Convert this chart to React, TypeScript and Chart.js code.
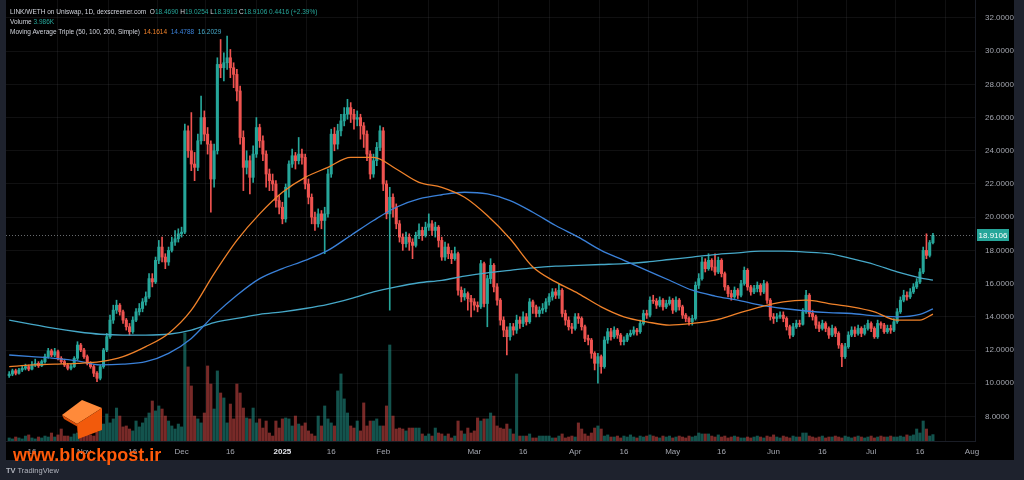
import React, { useEffect, useRef } from "react";
import { Chart, registerables } from "chart.js";

Chart.register(...registerables);

// ---- LINK/WETH daily candles (day 0 = 9 Oct 2024) ----
const FIRST_OPEN = 10.45;

const closes = [
  10.55, 10.75, 10.6, 10.8, 10.9, 11.0, 10.85, 11.1, 11.2, 11.05,
  11.3, 11.6, 11.95, 11.7, 11.9, 11.5, 11.3, 11.1, 10.9, 11.0,
  11.5, 12.3, 12.0, 11.6, 11.2, 11.0, 10.6, 10.3, 11.0, 12.0,
  12.8, 13.8, 14.4, 14.7, 14.3, 13.8, 13.4, 13.1, 13.8, 14.3,
  14.5, 14.9, 15.2, 16.3, 16.1, 17.4, 18.2, 17.6, 17.3, 18.0,
  18.5, 18.7, 19.0, 19.1, 25.2, 24.0, 23.2, 23.0, 24.6, 26.0,
  25.0, 24.4, 22.3, 24.0, 29.2, 29.0, 29.3, 29.6, 29.0, 28.6,
  27.6, 24.8, 23.0, 23.4, 22.4, 23.8, 25.4, 24.6, 23.8, 22.6,
  22.2, 22.0, 21.0, 20.6, 19.9, 21.8, 23.2, 23.7, 23.4, 23.8,
  23.6, 22.0, 21.2, 20.0, 19.6, 20.2, 19.8, 20.2, 22.6, 25.0,
  24.4, 25.2, 25.8, 26.2, 26.6, 26.2, 25.9, 26.0, 25.5, 25.0,
  23.8, 22.6, 23.4, 24.2, 25.2, 22.0, 20.2, 21.2, 20.6, 19.6,
  18.8, 18.4, 18.8, 18.5, 18.3, 18.9, 19.2, 18.9, 19.4, 19.6,
  19.2, 19.4, 18.6, 17.6, 18.2, 17.8, 17.5, 17.8, 15.6, 15.2,
  15.4, 15.1, 14.9, 14.7, 14.6, 17.2, 14.8, 16.3, 17.1, 15.8,
  15.0, 13.8, 13.2, 12.8, 13.4, 13.2, 13.8, 13.6, 14.0, 13.7,
  14.9, 14.6, 14.2, 14.4, 14.5, 14.9, 15.2, 15.5, 15.3, 15.6,
  14.2, 13.8, 13.4, 13.3, 14.0, 13.9, 13.4, 12.7, 12.6, 11.8,
  11.2, 11.6, 11.0, 12.6, 13.1, 12.8, 13.2, 12.9, 12.5, 12.6,
  12.9, 13.0, 13.2, 13.1, 13.6, 14.2, 14.1, 15.0, 14.95, 14.7,
  15.0, 14.6, 14.8, 15.0, 14.4, 15.0, 14.6, 14.1, 13.9, 13.7,
  13.9, 15.9, 16.3, 17.3, 16.9, 17.4, 17.0, 16.7, 17.4, 16.6,
  15.8, 15.4, 15.2, 15.6, 15.3, 16.0, 16.8, 15.8, 15.5, 15.7,
  15.9, 15.5, 16.0, 15.0, 14.0, 13.9, 14.0, 14.1, 13.9, 13.4,
  12.9, 13.4, 13.6, 13.55, 14.3, 15.3, 14.2, 14.0, 13.5, 13.3,
  13.6, 13.3, 12.9, 13.3, 13.0, 12.3, 11.6, 12.2, 12.9, 13.2,
  13.0, 13.3, 13.0, 13.3, 13.6, 13.3, 12.8, 13.6, 13.5, 13.1,
  13.3, 13.2, 13.7, 14.3, 15.0, 15.3, 15.2, 15.5, 15.8, 16.1,
  16.7, 18.0, 17.7, 18.469, 18.9106,
];

const highs = [
  10.7, 10.85, 10.85, 10.9, 11.05, 11.15, 11.1, 11.3, 11.45, 11.3,
  11.4, 11.75, 12.1, 12.05, 12.1, 12.0, 11.6, 11.45, 11.2, 11.15,
  11.6, 12.5, 12.4, 12.1, 11.7, 11.3, 11.1, 10.7, 11.1, 12.1,
  13.0, 14.1, 14.7, 15.0, 14.8, 14.4, 13.9, 13.6, 14.0, 14.5,
  14.8, 15.1, 15.5, 16.6, 16.6, 17.6, 18.6, 18.8, 17.8, 18.2,
  18.8, 19.2, 19.3, 19.4, 25.6, 25.5, 26.3, 23.9, 25.0, 27.3,
  26.4, 25.4, 24.6, 24.4, 29.6, 30.7, 29.9, 30.9, 30.1, 29.3,
  28.9, 27.9, 25.2, 24.0, 23.7, 24.3, 26.0, 25.6, 24.9, 24.0,
  22.9, 22.6, 22.2, 21.3, 20.9, 22.0, 23.4, 24.1, 23.9, 24.8,
  24.1, 23.8, 22.3, 21.4, 20.3, 20.5, 20.4, 20.6, 22.9, 25.3,
  25.4, 25.6, 26.2, 26.6, 27.1, 26.9, 26.5, 26.4, 26.2, 25.7,
  25.2, 24.0, 23.8, 24.5, 25.5, 25.4, 22.2, 21.8, 21.4, 20.8,
  19.8, 19.0, 19.1, 19.0, 18.7, 19.1, 19.6, 19.4, 19.7, 20.2,
  19.8, 19.7, 19.5, 18.8, 18.5, 18.4, 18.0, 18.2, 17.9, 15.8,
  15.7, 15.5, 15.3, 15.1, 14.9, 17.4, 17.3, 16.5, 17.5, 17.2,
  16.0, 15.1, 14.0, 13.4, 13.6, 13.6, 14.1, 14.0, 14.3, 14.2,
  15.1, 15.0, 14.7, 14.6, 14.8, 15.1, 15.4, 15.7, 15.7, 16.0,
  15.7, 14.4, 14.0, 13.6, 14.2, 14.2, 14.0, 13.5, 12.9, 12.7,
  11.9, 11.8, 11.7, 12.8, 13.3, 13.3, 13.4, 13.3, 13.0, 12.8,
  13.0, 13.2, 13.4, 13.3, 13.8, 14.4, 14.4, 15.2, 15.3, 15.1,
  15.2, 15.1, 15.0, 15.2, 15.1, 15.2, 15.1, 14.7, 14.2, 14.0,
  14.1, 16.1, 16.6, 17.6, 17.5, 17.8, 17.5, 17.8, 17.6, 17.5,
  16.7, 15.9, 15.6, 15.8, 15.7, 16.2, 17.0, 16.9, 15.9, 15.9,
  16.1, 16.0, 16.2, 16.1, 15.1, 14.2, 14.2, 14.3, 14.3, 14.0,
  13.5, 13.6, 13.8, 13.8, 14.5, 15.6, 15.4, 14.4, 14.1, 13.7,
  13.8, 13.7, 13.4, 13.5, 13.4, 13.1, 12.4, 12.4, 13.1, 13.4,
  13.4, 13.5, 13.4, 13.5, 13.8, 13.7, 13.4, 13.8, 13.7, 13.6,
  13.5, 13.5, 13.9, 14.5, 15.2, 15.6, 15.5, 15.7, 16.0, 16.3,
  16.9, 18.2, 19.0, 18.6, 19.0254,
];

const lows = [
  10.35, 10.45, 10.5, 10.55, 10.7, 10.8, 10.75, 10.8, 11.0, 10.95,
  11.0, 11.2, 11.5, 11.6, 11.6, 11.4, 11.2, 11.0, 10.8, 10.8,
  10.95, 11.4, 11.9, 11.5, 11.1, 10.9, 10.4, 10.1, 10.2, 10.9,
  11.9, 12.7, 13.6, 14.2, 14.1, 13.6, 13.2, 12.9, 13.0, 13.7,
  14.1, 14.3, 14.7, 15.1, 15.8, 16.0, 17.2, 17.3, 16.9, 17.1,
  17.9, 18.3, 18.5, 18.8, 19.0, 23.6, 22.8, 22.2, 22.8, 24.4,
  24.6, 23.8, 20.3, 21.8, 23.8, 28.4, 28.2, 28.9, 28.4, 27.8,
  27.0, 24.4, 21.6, 22.6, 21.4, 22.1, 23.6, 24.2, 23.4, 21.8,
  21.6, 21.6, 20.6, 20.2, 19.6, 19.7, 21.2, 23.0, 22.9, 23.2,
  23.2, 21.7, 20.8, 19.6, 19.2, 19.4, 19.3, 17.8, 20.0, 22.4,
  24.0, 24.1, 24.9, 25.5, 25.9, 25.7, 25.3, 25.5, 24.7, 24.2,
  23.4, 22.3, 22.4, 23.1, 24.0, 21.6, 19.9, 14.4, 20.0, 19.3,
  18.5, 18.0, 18.2, 18.0, 17.5, 18.2, 18.7, 18.6, 18.8, 19.2,
  18.9, 18.8, 18.2, 17.4, 17.4, 17.5, 17.2, 17.4, 15.3, 14.9,
  15.0, 14.4, 14.0, 14.4, 14.3, 14.5, 14.6, 13.4, 16.0, 15.5,
  14.7, 13.5, 12.8, 11.7, 12.6, 12.9, 13.0, 13.3, 13.4, 13.5,
  13.6, 14.2, 14.0, 14.0, 14.2, 14.3, 14.7, 15.0, 15.1, 15.1,
  14.0, 13.5, 13.2, 13.0, 13.2, 13.6, 13.2, 12.5, 12.3, 11.5,
  10.8, 10.0, 10.6, 10.9, 12.4, 12.6, 12.7, 12.7, 12.3, 12.3,
  12.5, 12.8, 12.9, 12.9, 13.0, 13.5, 13.9, 14.0, 14.8, 14.5,
  14.6, 14.4, 14.5, 14.7, 14.2, 14.3, 14.4, 13.9, 13.7, 13.5,
  13.5, 13.8, 15.7, 16.2, 16.7, 16.8, 16.8, 16.5, 16.6, 16.4,
  15.6, 15.2, 15.0, 15.1, 15.1, 15.2, 15.9, 15.6, 15.3, 15.4,
  15.5, 15.3, 15.4, 14.8, 13.8, 13.6, 13.7, 13.9, 13.7, 13.2,
  12.7, 12.8, 13.3, 13.4, 13.5, 14.2, 14.0, 13.8, 13.3, 13.1,
  13.2, 13.1, 12.7, 12.8, 12.8, 12.1, 11.0, 11.5, 12.1, 12.8,
  12.8, 12.9, 12.8, 12.9, 13.2, 13.1, 12.7, 12.7, 13.3, 13.0,
  13.0, 13.0, 13.1, 13.6, 14.2, 14.9, 15.0, 15.1, 15.4, 15.7,
  16.0, 16.6, 17.5, 17.6, 18.3913,
];

// volume in thousands
const volumes = [
  1.9, 1.3, 2.5, 1.9, 1.3, 3.1, 3.8, 1.9, 1.3, 2.5,
  1.9, 3.1, 2.5, 5.0, 2.5, 3.8, 7.5, 3.1, 3.1, 2.5,
  4.4, 5.0, 3.8, 3.1, 5.0, 3.8, 3.1, 5.6, 7.5, 10.6,
  16.9, 11.3, 13.8, 20.6, 15.6, 8.8, 9.4, 7.5, 6.3, 12.5,
  8.8, 11.3, 14.4, 17.5, 25.0, 18.8, 21.9, 20.0, 15.6, 12.5,
  9.4, 7.5, 10.6, 8.8, 67.5, 46.3, 34.4, 15.6, 13.8, 11.3,
  17.5, 46.9, 35.6, 20.0, 43.8, 30.0, 26.9, 11.3, 23.1, 13.8,
  35.6, 30.0, 20.6, 14.4, 13.8, 20.6, 11.3, 13.8, 8.1, 12.5,
  5.0, 3.1, 12.5, 8.1, 13.8, 14.4, 13.8, 9.4, 15.6, 10.6,
  9.4, 11.3, 6.3, 4.4, 3.1, 15.6, 9.4, 21.9, 13.8, 11.3,
  9.4, 31.3, 41.9, 26.3, 17.5, 9.4, 8.1, 12.5, 6.3, 23.8,
  9.4, 12.5, 12.5, 13.8, 9.4, 9.4, 21.9, 60.0, 15.6, 7.5,
  8.1, 7.5, 6.3, 8.1, 8.1, 8.1, 8.1, 4.4, 3.1, 4.4,
  3.1, 8.1, 5.0, 4.4, 3.1, 4.4, 1.9, 3.1, 12.5, 6.3,
  4.4, 8.1, 5.0, 6.3, 14.4, 12.5, 13.8, 13.8, 17.5, 15.6,
  9.4, 8.1, 7.5, 10.6, 7.5, 4.4, 41.9, 3.1, 3.1, 3.1,
  4.4, 1.9, 1.9, 3.1, 3.1, 3.1, 3.1, 1.9, 1.9, 3.1,
  4.4, 1.9, 2.5, 3.1, 2.5, 11.3, 7.5, 4.4, 3.1, 5.0,
  8.1, 9.4, 7.5, 3.1, 3.8, 2.5, 2.5, 3.1, 1.9, 3.1,
  2.5, 3.8, 2.5, 1.9, 3.1, 2.5, 3.1, 3.8, 3.1, 2.5,
  1.9, 3.1, 2.5, 3.1, 1.9, 2.5, 3.1, 2.5, 1.9, 3.1,
  2.5, 3.1, 5.0, 4.4, 4.4, 4.4, 3.1, 2.5, 3.8, 2.5,
  3.1, 1.9, 2.5, 3.1, 2.5, 1.9, 1.9, 2.5, 1.9, 2.5,
  3.1, 2.5, 1.9, 3.1, 2.5, 3.8, 2.5, 1.9, 3.1, 2.5,
  1.9, 3.1, 2.5, 2.5, 5.0, 5.0, 3.1, 2.5, 1.9, 2.5,
  3.1, 1.9, 2.5, 2.5, 3.1, 2.5, 1.9, 3.1, 2.5, 1.9,
  2.5, 3.1, 2.5, 1.9, 2.5, 3.1, 1.9, 2.5, 3.1, 2.5,
  2.5, 3.1, 2.5, 2.5, 3.1, 2.5, 3.8, 3.1, 3.8, 7.5,
  5.0, 12.5, 7.5, 3.1, 3.986,
];

// Moving averages (50 / 100 / 200, simple), sampled weekly
const maDays = [
  0, 7, 14, 21, 28, 35, 42, 49, 56, 63, 70, 77, 84, 91, 98, 105, 112, 119, 126, 133, 140,
  147, 154, 161, 168, 175, 182, 189, 196, 203, 210, 217, 224, 231, 238, 245, 252, 259, 266, 273, 280, 284,
];
const ma50 = [
  11.0, 11.1, 11.15, 11.2, 11.3, 11.6, 12.2, 13.0, 14.4, 16.6, 18.6, 20.2, 21.5, 22.4, 23.0, 23.6, 23.6, 22.9, 22.1, 21.8, 21.2,
  20.1, 18.7, 17.0, 16.1, 15.4, 14.6, 14.0, 13.7, 13.5, 13.6, 13.8, 14.2, 14.6, 14.9, 15.0, 14.8, 14.6, 14.3, 13.8, 13.8, 14.1614,
];
const ma100 = [
  11.7, 11.6, 11.5, 11.35, 11.1, 11.15, 11.3, 11.8, 12.7, 14.1, 15.3, 16.3, 16.9, 17.4, 18.0, 18.9, 19.8, 20.6, 21.1, 21.35, 21.5,
  21.4, 21.0, 20.3, 19.5, 18.8, 18.0, 17.4, 16.8, 16.2, 15.6, 15.25, 15.0, 14.7, 14.5, 14.35, 14.25, 14.2, 14.05, 14.0, 14.15, 14.4788,
];
const ma200 = [
  13.8, 13.55, 13.3, 13.1, 12.95, 12.9, 12.9, 12.95, 13.2, 13.65, 13.9, 14.15, 14.3, 14.5, 14.75, 15.1, 15.5, 15.8, 16.05, 16.2, 16.45,
  16.65, 16.8, 16.95, 17.05, 17.1, 17.15, 17.2, 17.3, 17.45, 17.6, 17.75, 17.85, 17.95, 17.95, 17.9, 17.8, 17.5, 17.15, 16.7, 16.35, 16.2029,
];

// time axis
const dateTickDays = [7, 23, 38, 53, 68, 84, 99, 115, 143, 158, 174, 189, 204, 219, 235, 250, 265, 280, 296];
const dateTickLabels = ["16", "Nov", "16", "Dec", "16", "2025", "16", "Feb", "Mar", "16", "Apr", "16", "May", "16", "Jun", "16", "Jul", "16", "Aug"];
const priceTicks = [8, 10, 12, 14, 16, 18, 20, 22, 24, 26, 28, 30, 32];

// ---- styling ----
const UP = "#26a69a";
const DOWN = "#ef5350";
const VOL_UP = "rgba(38,166,154,0.5)";
const VOL_DOWN = "rgba(239,83,80,0.5)";
const MA50_COLOR = "#f0822a";
const MA100_COLOR = "#3a80d8";
const MA200_COLOR = "#46a8c8";
const GRID = "rgba(120,123,134,0.13)";
const AXIS_TEXT = "#a3a6af";
const FRAME = "#1e222d";
const FONT = "'Liberation Sans', Arial, sans-serif";

const X_MIN = -0.98;
const X_MAX = 296.93;
const Y_MIN = 6.52;
const Y_MAX = 33.08;
const VOL_MAX = 275.6;

const opens = closes.map((c, i) => (i === 0 ? FIRST_OPEN : closes[i - 1]));
const isUp = closes.map((c, i) => c >= opens[i]);
const last = closes.length - 1;

const lastPricePlugin = {
  id: "lastPrice",
  afterDatasetsDraw(chart: any) {
    const { ctx, chartArea } = chart;
    const y = Math.round(chart.scales.y.getPixelForValue(closes[last])) + 0.5;
    ctx.save();
    ctx.setLineDash([1, 2]);
    ctx.strokeStyle = "rgba(190,195,200,0.55)";
    ctx.lineWidth = 1;
    ctx.beginPath();
    ctx.moveTo(chartArea.left, y);
    ctx.lineTo(chartArea.right, y);
    ctx.stroke();
    ctx.restore();
  },
  afterDraw(chart: any) {
    const { ctx, chartArea } = chart;
    const y = chart.scales.y.getPixelForValue(closes[last]);
    const x0 = chartArea.right + 2;
    ctx.save();
    ctx.fillStyle = UP;
    ctx.fillRect(x0, Math.round(y) - 6, 32, 12);
    ctx.fillStyle = "#ffffff";
    ctx.font = `8px ${FONT}`;
    ctx.textAlign = "center";
    ctx.textBaseline = "middle";
    ctx.fillText(closes[last].toFixed(4), x0 + 16, Math.round(y) + 0.5);
    ctx.restore();
  },
};

export default function App() {
  const canvasRef = useRef<HTMLCanvasElement>(null);

  useEffect(() => {
    const canvas = canvasRef.current;
    if (!canvas) return;
    const chart = new Chart(canvas, {
      type: "bar",
      data: {
        datasets: [
          {
            type: "bar",
            label: "Volume",
            data: volumes.map((v, i) => ({ x: i, y: v })),
            backgroundColor: volumes.map((_, i) => (isUp[i] ? VOL_UP : VOL_DOWN)),
            barThickness: 2.4,
            borderWidth: 0,
            grouped: false,
            yAxisID: "yVol",
            order: 10,
          } as any,
          {
            type: "bar",
            label: "Wicks",
            data: closes.map((_, i) => ({ x: i, y: [lows[i], highs[i]] })),
            backgroundColor: closes.map((_, i) => (isUp[i] ? UP : DOWN)),
            barThickness: 1,
            borderWidth: 0,
            grouped: false,
            yAxisID: "y",
            order: 5,
          } as any,
          {
            type: "bar",
            label: "Bodies",
            data: closes.map((c, i) => ({ x: i, y: [opens[i], c] })),
            backgroundColor: closes.map((_, i) => (isUp[i] ? UP : DOWN)),
            barThickness: 2.4,
            borderWidth: 0,
            grouped: false,
            yAxisID: "y",
            order: 4,
          } as any,
          {
            type: "line",
            label: "MA 200",
            data: maDays.map((d, k) => ({ x: d, y: ma200[k] })),
            borderColor: MA200_COLOR,
            borderWidth: 1.3,
            pointRadius: 0,
            cubicInterpolationMode: "monotone",
            yAxisID: "y",
            order: 3,
          } as any,
          {
            type: "line",
            label: "MA 100",
            data: maDays.map((d, k) => ({ x: d, y: ma100[k] })),
            borderColor: MA100_COLOR,
            borderWidth: 1.3,
            pointRadius: 0,
            cubicInterpolationMode: "monotone",
            yAxisID: "y",
            order: 2,
          } as any,
          {
            type: "line",
            label: "MA 50",
            data: maDays.map((d, k) => ({ x: d, y: ma50[k] })),
            borderColor: MA50_COLOR,
            borderWidth: 1.3,
            pointRadius: 0,
            cubicInterpolationMode: "monotone",
            yAxisID: "y",
            order: 1,
          } as any,
        ],
      },
      options: {
        responsive: false,
        maintainAspectRatio: false,
        animation: false,
        events: [],
        layout: { padding: 0 },
        plugins: { legend: { display: false }, tooltip: { enabled: false } },
        scales: {
          x: {
            type: "linear",
            min: X_MIN,
            max: X_MAX,
            offset: false,
            afterBuildTicks: (s: any) => {
              s.ticks = dateTickDays.map((v) => ({ value: v }));
            },
            afterFit: (s: any) => {
              s.height = 19;
              s.paddingLeft = 0;
              s.paddingRight = 0;
            },
            grid: { color: GRID, drawTicks: false },
            border: { color: "#1a1d26" },
            ticks: {
              autoSkip: false,
              maxRotation: 0,
              padding: 6,
              color: (c: any) => (c.tick && c.tick.value === 84 ? "#e6e8ee" : AXIS_TEXT),
              font: (c: any) => ({
                family: FONT,
                size: 8,
                weight: c.tick && c.tick.value === 84 ? "bold" : "normal",
              }),
              callback: (v: any) => {
                const k = dateTickDays.indexOf(Number(v));
                return k >= 0 ? dateTickLabels[k] : "";
              },
            },
          },
          y: {
            type: "linear",
            position: "right",
            min: Y_MIN,
            max: Y_MAX,
            afterBuildTicks: (s: any) => {
              s.ticks = priceTicks.map((v) => ({ value: v }));
            },
            afterFit: (s: any) => {
              s.width = 39;
              s.paddingTop = 0;
              s.paddingBottom = 0;
            },
            grid: { color: GRID, drawTicks: false },
            border: { color: "#1a1d26" },
            ticks: {
              padding: 10,
              color: AXIS_TEXT,
              font: { family: FONT, size: 8 },
              callback: (v: any) => Number(v).toFixed(4),
            },
          },
          yVol: {
            type: "linear",
            display: false,
            min: 0,
            max: VOL_MAX,
          },
        },
      } as any,
      plugins: [lastPricePlugin],
    });
    return () => chart.destroy();
  }, []);

  const change = closes[last] - closes[last - 1];
  const pct = (change / closes[last - 1]) * 100;
  const valColor = isUp[last] ? UP : DOWN;
  const legendBase: React.CSSProperties = {
    position: "absolute",
    left: 10,
    fontFamily: FONT,
    fontSize: 6.5,
    lineHeight: "10px",
    color: "#d1d4dc",
    whiteSpace: "pre",
  };

  return (
    <div
      style={{
        position: "fixed",
        left: 0,
        top: 0,
        width: 1024,
        height: 480,
        background: FRAME,
        overflow: "hidden",
      }}
    >
      <canvas
        ref={canvasRef}
        width={1008}
        height={460}
        style={{ position: "absolute", left: 6, top: 0, width: 1008, height: 460, background: "#000" }}
      />

      <div style={{ ...legendBase, top: 7 }}>
        <span>LINK/WETH on Uniswap, 1D, dexscreener.com </span>
        <span> O</span>
        <span style={{ color: valColor }}>{opens[last].toFixed(4)}</span>
        <span> H</span>
        <span style={{ color: valColor }}>{highs[last].toFixed(4)}</span>
        <span> L</span>
        <span style={{ color: valColor }}>{lows[last].toFixed(4)}</span>
        <span> C</span>
        <span style={{ color: valColor }}>{closes[last].toFixed(4)}</span>
        <span style={{ color: valColor }}>
          {" "}
          {change.toFixed(4)} ({change >= 0 ? "+" : ""}
          {pct.toFixed(2)}%)
        </span>
      </div>
      <div style={{ ...legendBase, top: 17 }}>
        <span>Volume </span>
        <span style={{ color: valColor }}>{volumes[last].toFixed(3)}K</span>
      </div>
      <div style={{ ...legendBase, top: 27 }}>
        <span>Moving Average Triple (50, 100, 200, Simple) </span>
        <span style={{ color: MA50_COLOR }}> {ma50[ma50.length - 1].toFixed(4)}</span>
        <span style={{ color: MA100_COLOR }}>  {ma100[ma100.length - 1].toFixed(4)}</span>
        <span style={{ color: MA200_COLOR }}>  {ma200[ma200.length - 1].toFixed(4)}</span>
      </div>

      <svg
        width={50}
        height={44}
        viewBox="0 0 50 44"
        style={{ position: "absolute", left: 58, top: 397 }}
      >
        <polygon points="4,18 24,3 44,11 19,27" fill="#ff8a3a" />
        <polygon points="19,27 44,11 44,33 20,42" fill="#f25a0c" />
        <polygon points="4,18 19,27 20,30 6,22" fill="#d94e08" />
      </svg>
      <div
        style={{
          position: "absolute",
          left: 13,
          top: 446,
          fontFamily: FONT,
          fontWeight: "bold",
          fontSize: 18,
          lineHeight: "18px",
          color: "#ff5a0a",
          whiteSpace: "pre",
        }}
      >
        www.blockpost.ir
      </div>

      <div
        style={{
          position: "absolute",
          left: 6,
          top: 466,
          fontFamily: FONT,
          fontSize: 7.5,
          lineHeight: "10px",
          color: "#b2b5be",
          whiteSpace: "pre",
        }}
      >
        <span style={{ fontWeight: "bold" }}>TV</span>
        <span> TradingView</span>
      </div>
    </div>
  );
}
